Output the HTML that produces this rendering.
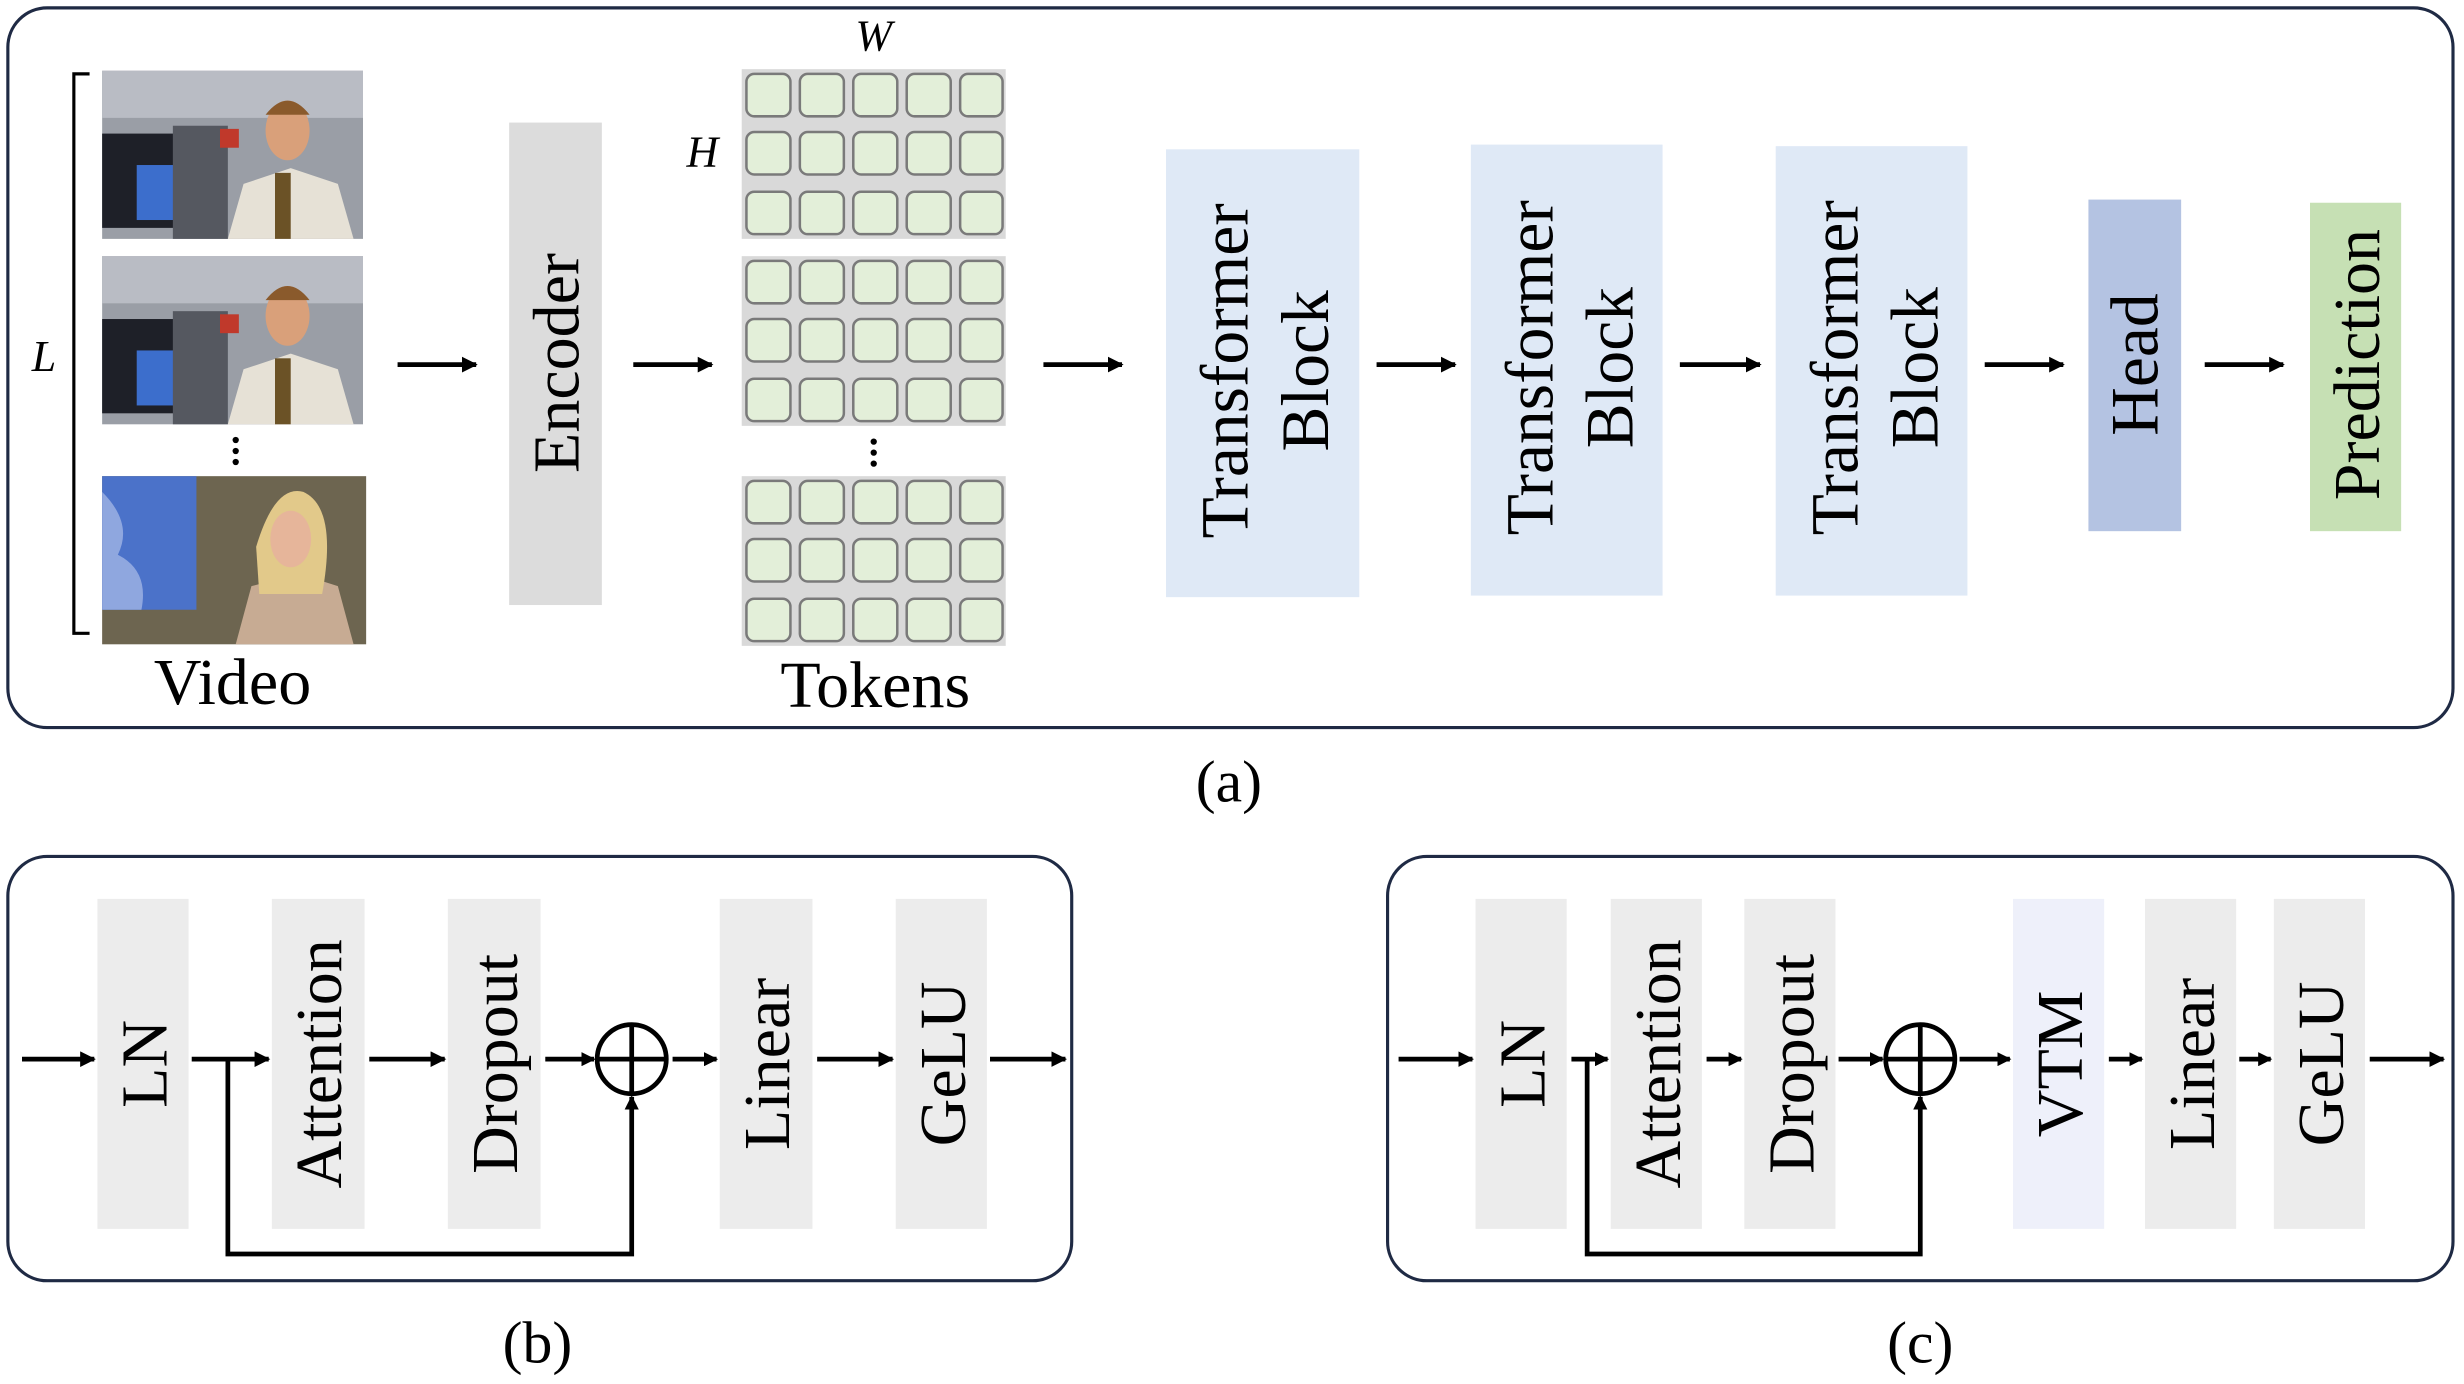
<!DOCTYPE html>
<html><head><meta charset="utf-8"><style>
html,body{margin:0;padding:0;background:#fff}
svg{display:block}
text{font-family:"Liberation Serif",serif;fill:#000}
</style></head><body>
<svg width="2464" height="1384" viewBox="0 0 1568 880.7" xmlns="http://www.w3.org/2000/svg">
<defs>
<marker id="ah" markerWidth="10" markerHeight="10" refX="9" refY="5" orient="auto" markerUnits="userSpaceOnUse"><path d="M0,0 L10,5 L0,10 z" fill="#000"/></marker>
<marker id="ahs" markerWidth="9" markerHeight="9" refX="8" refY="4.5" orient="auto" markerUnits="userSpaceOnUse"><path d="M0,0 L9,4.5 L0,9 z" fill="#000"/></marker>
<g id="grp">
<rect x="0" y="0" width="168" height="108" fill="#d9d9d9"/>
<g fill="#e3efd9" stroke="#7a7a7a" stroke-width="1.6">
<rect x="3" y="3" width="28" height="27" rx="5"/><rect x="37" y="3" width="28" height="27" rx="5"/><rect x="71" y="3" width="28" height="27" rx="5"/><rect x="105" y="3" width="28" height="27" rx="5"/><rect x="139" y="3" width="27" height="27" rx="5"/>
<rect x="3" y="40" width="28" height="27" rx="5"/><rect x="37" y="40" width="28" height="27" rx="5"/><rect x="71" y="40" width="28" height="27" rx="5"/><rect x="105" y="40" width="28" height="27" rx="5"/><rect x="139" y="40" width="27" height="27" rx="5"/>
<rect x="3" y="78" width="28" height="27" rx="5"/><rect x="37" y="78" width="28" height="27" rx="5"/><rect x="71" y="78" width="28" height="27" rx="5"/><rect x="105" y="78" width="28" height="27" rx="5"/><rect x="139" y="78" width="27" height="27" rx="5"/>
</g></g>
<g id="man">
<rect x="0" y="0" width="166" height="107" fill="#9a9ea6"/>
<rect x="0" y="0" width="166" height="30" fill="#b9bcc4"/>
<rect x="0" y="40" width="55" height="60" fill="#1e2028"/>
<rect x="22" y="60" width="25" height="35" fill="#3c6ecc"/>
<rect x="45" y="35" width="35" height="72" fill="#555860"/>
<rect x="75" y="37" width="12" height="12" fill="#c0392b"/>
<path d="M80,107 L90,72 L120,62 L150,72 L160,107 z" fill="#e6e1d6"/>
<rect x="110" y="65" width="10" height="42" fill="#6b5226"/>
<ellipse cx="118" cy="38" rx="14" ry="19" fill="#d9a07a"/>
<path d="M104,28 Q118,10 132,28 z" fill="#8a5a2c"/>
</g>
</defs>

<!-- panel a -->
<rect x="5" y="5" width="1556" height="458" rx="25" fill="none" stroke="#1f2a44" stroke-width="2"/>
<path d="M57,47 L47,47 L47,403 L57,403" fill="none" stroke="#000" stroke-width="2"/>
<text x="28" y="236" font-size="28" font-style="italic" text-anchor="middle">L</text>
<use href="#man" x="65" y="45"/>
<use href="#man" x="65" y="163"/>
<g transform="translate(65,303)">
<rect width="168" height="107" fill="#6d6550"/>
<rect width="60" height="85" fill="#4b72c9"/>
<path d="M0,10 Q20,30 10,50 Q30,60 25,85 L0,85 z" fill="#8fa7df"/>
<path d="M85,107 L95,70 L125,62 L150,70 L160,107 z" fill="#c7ab93"/>
<path d="M98,45 Q110,5 128,10 Q150,20 140,75 L100,75 z" fill="#e2c98a"/>
<ellipse cx="120" cy="40" rx="13" ry="18" fill="#e6b59a"/>
</g>
<g fill="#000"><circle cx="150" cy="280" r="2"/><circle cx="150" cy="287" r="2"/><circle cx="150" cy="294" r="2"/></g>
<text x="148" y="448" font-size="42" text-anchor="middle">Video</text>

<g stroke="#000" stroke-width="3" marker-end="url(#ah)">
<line x1="253" y1="232" x2="303" y2="232"/>
<line x1="403" y1="232" x2="453" y2="232"/>
<line x1="664" y1="232" x2="714" y2="232"/>
<line x1="876" y1="232" x2="926" y2="232"/>
<line x1="1069" y1="232" x2="1120" y2="232"/>
<line x1="1263" y1="232" x2="1313" y2="232"/>
<line x1="1403" y1="232" x2="1453" y2="232"/>
</g>
<rect x="324" y="78" width="59" height="307" fill="#dcdcdc"/>
<text transform="translate(368,231) rotate(-90)" font-size="42" text-anchor="middle">Encoder</text>

<use href="#grp" x="472" y="44"/>
<use href="#grp" x="472" y="163"/>
<use href="#grp" x="472" y="303"/>
<g fill="#000"><circle cx="556" cy="281" r="2"/><circle cx="556" cy="288" r="2"/><circle cx="556" cy="295" r="2"/></g>
<text x="556" y="32" font-size="28" font-style="italic" text-anchor="middle">W</text>
<text x="447" y="106" font-size="28" font-style="italic" text-anchor="middle">H</text>
<text x="557" y="450" font-size="42" text-anchor="middle">Tokens</text>

<rect x="742" y="95" width="123" height="285" fill="#dfe9f6"/>
<rect x="936" y="92" width="122" height="287" fill="#dfe9f6"/>
<rect x="1130" y="93" width="122" height="286" fill="#dfe9f6"/>
<g font-size="43" text-anchor="middle">
<text transform="translate(794,236) rotate(-90)">Transformer</text>
<text transform="translate(845,236) rotate(-90)">Block</text>
<text transform="translate(988,234) rotate(-90)">Transformer</text>
<text transform="translate(1039,234) rotate(-90)">Block</text>
<text transform="translate(1182,234) rotate(-90)">Transformer</text>
<text transform="translate(1233,234) rotate(-90)">Block</text>
</g>
<rect x="1329" y="127" width="59" height="211" fill="#b4c3e2"/>
<text transform="translate(1373,232) rotate(-90)" font-size="43" text-anchor="middle">Head</text>
<rect x="1470" y="129" width="58" height="209" fill="#c6e0b4"/>
<text transform="translate(1514,232) rotate(-90)" font-size="42" text-anchor="middle">Prediction</text>
<text x="782" y="510" font-size="38" text-anchor="middle">(a)</text>

<!-- panel b -->
<rect x="5" y="545" width="677" height="270" rx="25" fill="none" stroke="#1f2a44" stroke-width="2"/>
<g fill="#ececec">
<rect x="62" y="572" width="58" height="210"/><rect x="173" y="572" width="59" height="210"/><rect x="285" y="572" width="59" height="210"/><rect x="458" y="572" width="59" height="210"/><rect x="570" y="572" width="58" height="210"/>
</g>
<g font-size="42" text-anchor="middle">
<text transform="translate(106,677) rotate(-90)">LN</text>
<text transform="translate(217,677) rotate(-90)">Attention</text>
<text transform="translate(329,677) rotate(-90)">Dropout</text>
<text transform="translate(502,677) rotate(-90)">Linear</text>
<text transform="translate(614,677) rotate(-90)">GeLU</text>
</g>
<g stroke="#000" stroke-width="3" fill="none">
<line x1="14" y1="674" x2="60" y2="674" marker-end="url(#ah)"/>
<line x1="122" y1="674" x2="171" y2="674" marker-end="url(#ah)"/>
<line x1="235" y1="674" x2="283" y2="674" marker-end="url(#ah)"/>
<line x1="347" y1="674" x2="378" y2="674" marker-end="url(#ahs)"/>
<line x1="428" y1="674" x2="456" y2="674" marker-end="url(#ahs)"/>
<line x1="520" y1="674" x2="568" y2="674" marker-end="url(#ah)"/>
<line x1="630" y1="674" x2="678" y2="674" marker-end="url(#ah)"/>
<polyline points="145,674 145,798 402,798 402,698" marker-end="url(#ahs)"/>
<circle cx="402" cy="674" r="22"/>
<line x1="380" y1="674" x2="424" y2="674"/><line x1="402" y1="652" x2="402" y2="696"/>
</g>
<text x="342" y="867" font-size="38" text-anchor="middle">(b)</text>

<!-- panel c -->
<rect x="883" y="545" width="678" height="270" rx="25" fill="none" stroke="#1f2a44" stroke-width="2"/>
<g fill="#ececec">
<rect x="939" y="572" width="58" height="210"/><rect x="1025" y="572" width="58" height="210"/><rect x="1110" y="572" width="58" height="210"/><rect x="1365" y="572" width="58" height="210"/><rect x="1447" y="572" width="58" height="210"/>
</g>
<rect x="1281" y="572" width="58" height="210" fill="#eef0fa"/>
<g font-size="42" text-anchor="middle">
<text transform="translate(983,677) rotate(-90)">LN</text>
<text transform="translate(1069,677) rotate(-90)">Attention</text>
<text transform="translate(1154,677) rotate(-90)">Dropout</text>
<text transform="translate(1325,677) rotate(-90)">VTM</text>
<text transform="translate(1409,677) rotate(-90)">Linear</text>
<text transform="translate(1491,677) rotate(-90)">GeLU</text>
</g>
<g stroke="#000" stroke-width="3" fill="none">
<line x1="890" y1="674" x2="937" y2="674" marker-end="url(#ah)"/>
<line x1="1000" y1="674" x2="1023" y2="674" marker-end="url(#ahs)"/>
<line x1="1086" y1="674" x2="1108" y2="674" marker-end="url(#ahs)"/>
<line x1="1170" y1="674" x2="1198" y2="674" marker-end="url(#ahs)"/>
<line x1="1247" y1="674" x2="1279" y2="674" marker-end="url(#ahs)"/>
<line x1="1342" y1="674" x2="1363" y2="674" marker-end="url(#ahs)"/>
<line x1="1425" y1="674" x2="1445" y2="674" marker-end="url(#ahs)"/>
<line x1="1508" y1="674" x2="1555" y2="674" marker-end="url(#ah)"/>
<polyline points="1010,674 1010,798 1222,798 1222,698" marker-end="url(#ahs)"/>
<circle cx="1222" cy="674" r="22"/>
<line x1="1200" y1="674" x2="1244" y2="674"/><line x1="1222" y1="652" x2="1222" y2="696"/>
</g>
<text x="1222" y="867" font-size="38" text-anchor="middle">(c)</text>
</svg>
</body></html>
